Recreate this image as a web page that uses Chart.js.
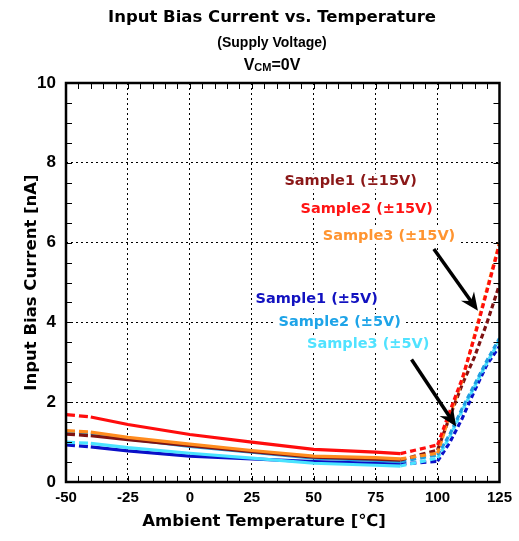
<!DOCTYPE html>
<html><head><meta charset="utf-8">
<script src="https://cdn.jsdelivr.net/npm/chart.js@4"></script>
<style>html,body{margin:0;padding:0;background:#fff;}#wrap{width:519px;height:541px;position:relative;}</style>
</head><body><div id="wrap"><canvas id="c"></canvas></div>
<script>
// ---- data ----
const temps = [-50, -40, -25, 0, 25, 50, 75, 85, 100, 105, 110, 115, 120, 125];
const sample1_15V = [1.20, 1.16, 1.06, 0.91, 0.76, 0.62, 0.57, 0.55, 0.80, 1.65, 2.45, 3.15, 4.00, 4.95];
const sample2_15V = [1.69, 1.63, 1.44, 1.19, 1.00, 0.82, 0.75, 0.71, 0.93, 1.78, 2.60, 3.65, 4.80, 5.95];
const sample3_15V = [1.29, 1.25, 1.12, 0.95, 0.79, 0.65, 0.61, 0.58, 0.72, 1.70, 2.55, 3.70, 4.85, 6.00];
const sample1_5V  = [0.93, 0.88, 0.78, 0.65, 0.58, 0.51, 0.47, 0.45, 0.52, 1.00, 1.60, 2.30, 2.95, 3.40];
const sample2_5V  = [1.26, 1.21, 1.08, 0.89, 0.75, 0.60, 0.54, 0.51, 0.68, 1.20, 1.85, 2.45, 3.05, 3.60];
const sample3_5V  = [1.00, 0.97, 0.86, 0.72, 0.60, 0.47, 0.42, 0.40, 0.60, 1.15, 1.80, 2.40, 3.00, 3.55];
const seriesNames = ['Sample1 (±15V)', 'Sample2 (±15V)', 'Sample3 (±15V)', 'Sample1 (±5V)', 'Sample2 (±5V)', 'Sample3 (±5V)'];
const xTicks = [-50, -25, 0, 25, 50, 75, 100, 125];
const yTicks = [0, 2, 4, 6, 8, 10];
const titleText = 'Input Bias Current vs. Temperature';
const subtitleText = '(Supply Voltage)';
const xTitle = 'Ambient Temperature [℃]';
const yTitle = 'Input Bias Current [nA]';

// ---- styles / annotation placement (data coordinates) ----
const lineColors = ['#7e1212', '#ff0d0d', '#ff8c1f', '#0a10c8', '#1e9fe2', '#4ae3ff'];
const textColors = ['#8b1818', '#ff1414', '#ff9430', '#1212c0', '#1ea4e8', '#50e2ff'];
const labelPos = [[64.9, 7.53], [71.4, 6.83], [80.4, 6.17], [51.2, 4.57], [60.5, 4.01], [72.0, 3.45]];
const arrows = [[[98.5, 5.84], [116.3, 4.29]], [[89.5, 3.07], [107.5, 1.39]]];

const seriesData = [sample1_15V, sample2_15V, sample3_15V, sample1_5V, sample2_5V, sample3_5V];
const drawOrder = [1, 2, 0, 4, 5, 3]; // first = top
const datasets = drawOrder.map(i => ({
  label: seriesNames[i],
  data: temps.map((t, k) => ({x: t, y: seriesData[i][k]})),
  borderColor: lineColors[i],
  borderWidth: 3.2,
  pointRadius: 0,
  tension: 0,
  fill: false,
  segment: {
    borderDash: c => {
      const x0 = c.p0.parsed.x;
      if (x0 < -40) return [9, 4];
      if (x0 >= 100) return [5, 3];
      if (x0 >= 85) return [6, 4];
      return undefined;
    }
  }
}));

const FAM = '"Liberation Sans", Arial, sans-serif';
const WIDE = '"DejaVu Sans", sans-serif';

const decor = {
  id: 'decor',
  afterDraw(chart) {
    const {ctx, chartArea: a, scales: {x, y}} = chart;
    ctx.save();
    // minor ticks
    ctx.strokeStyle = '#000'; ctx.lineWidth = 1;
    ctx.beginPath();
    for (let v = -50; v <= 125; v += 5) {
      const px = Math.round(x.getPixelForValue(v)) + 0.5;
      ctx.moveTo(px, a.bottom); ctx.lineTo(px, a.bottom - 6);
      ctx.moveTo(px, a.top); ctx.lineTo(px, a.top + 6);
    }
    for (let v = 0; v <= 10; v += 0.5) {
      const py = Math.round(y.getPixelForValue(v)) + 0.5;
      ctx.moveTo(a.left, py); ctx.lineTo(a.left + 6, py);
      ctx.moveTo(a.right, py); ctx.lineTo(a.right - 6, py);
    }
    ctx.stroke();
    // frame
    ctx.lineWidth = 2.5;
    ctx.strokeRect(a.left, a.top, a.right - a.left, a.bottom - a.top);
    // labels with white backing
    ctx.font = 'bold 14.5px ' + WIDE;
    ctx.textAlign = 'center'; ctx.textBaseline = 'middle';
    seriesNames.forEach((n, i) => {
      const cx = x.getPixelForValue(labelPos[i][0]), cy = y.getPixelForValue(labelPos[i][1]);
      const w = ctx.measureText(n).width;
      ctx.fillStyle = '#fff';
      ctx.fillRect(cx - w / 2 - 3, cy - 8, w + 6, 16);
      ctx.fillStyle = textColors[i];
      ctx.fillText(n, cx, cy);
    });
    // arrows
    ctx.strokeStyle = '#000'; ctx.fillStyle = '#000'; ctx.lineWidth = 3.5;
    arrows.forEach(([p, q]) => {
      const x1 = x.getPixelForValue(p[0]), y1 = y.getPixelForValue(p[1]);
      const x2 = x.getPixelForValue(q[0]), y2 = y.getPixelForValue(q[1]);
      const ang = Math.atan2(y2 - y1, x2 - x1);
      const L = 18, W = 8;
      const bx = x2 - L * Math.cos(ang), by = y2 - L * Math.sin(ang);
      ctx.beginPath(); ctx.moveTo(x1, y1); ctx.lineTo(x2 - 10 * Math.cos(ang), y2 - 10 * Math.sin(ang)); ctx.stroke();
      const nx = -Math.sin(ang), ny = Math.cos(ang);
      ctx.beginPath();
      ctx.moveTo(x2, y2);
      ctx.lineTo(bx + nx * W, by + ny * W);
      ctx.lineTo(x2 - 12 * Math.cos(ang), y2 - 12 * Math.sin(ang));
      ctx.lineTo(bx - nx * W, by - ny * W);
      ctx.closePath(); ctx.fill();
    });
    // titles
    ctx.fillStyle = '#000';
    ctx.font = 'bold 16.5px ' + WIDE;
    ctx.fillText(titleText, 272, 18);
    ctx.font = 'bold 14px ' + FAM;
    ctx.fillText(subtitleText, 272, 43);
    // V_CM = 0V
    const big = 'bold 16px ' + FAM, small = 'bold 11px ' + FAM;
    ctx.font = big; const w1 = ctx.measureText('V').width, w3 = ctx.measureText('=0V').width;
    ctx.font = small; const w2 = ctx.measureText('CM').width;
    let sx = 272 - (w1 + w2 + w3) / 2;
    ctx.textAlign = 'left';
    ctx.font = big; ctx.fillText('V', sx, 66); sx += w1;
    ctx.font = small; ctx.fillText('CM', sx, 68); sx += w2;
    ctx.font = big; ctx.fillText('=0V', sx, 66);
    // x axis title
    ctx.textAlign = 'center';
    ctx.font = 'bold 16.5px ' + WIDE;
    ctx.fillText(xTitle, 264, 522);
    ctx.restore();
  }
};

new Chart(document.getElementById('c'), {
  type: 'line',
  data: {datasets},
  plugins: [decor],
  options: {
    responsive: true,
    maintainAspectRatio: false,
    animation: false,
    layout: {padding: {top: 83, right: 19, left: 0, bottom: 0}},
    plugins: {legend: {display: false}, tooltip: {enabled: false}, title: {display: false}},
    scales: {
      x: {
        type: 'linear', min: -50, max: 125,
        afterBuildTicks: s => { s.ticks = xTicks.map(v => ({value: v})); },
        afterFit: s => { s.height = 59; },
        ticks: {color: '#000', font: {family: FAM, weight: 'bold', size: 15}, padding: 7, maxRotation: 0, autoSkip: false},
        grid: {color: c => (c.tick && c.tick.value > -50 && c.tick.value < 125) ? '#000' : 'rgba(0,0,0,0)', lineWidth: 1, drawTicks: false},
        border: {display: false, dash: [2, 3]},
        title: {display: false, text: xTitle}
      },
      y: {
        type: 'linear', min: 0, max: 10,
        afterBuildTicks: s => { s.ticks = yTicks.map(v => ({value: v})); },
        afterFit: s => { s.width = 66; },
        ticks: {color: '#000', font: {family: FAM, weight: 'bold', size: 17}, padding: 10, autoSkip: false},
        grid: {color: c => (c.tick && c.tick.value > 0 && c.tick.value < 10) ? '#000' : 'rgba(0,0,0,0)', lineWidth: 1, drawTicks: false},
        border: {display: false, dash: [2, 3]},
        title: {display: true, text: yTitle, color: '#000', font: {family: WIDE, weight: 'bold', size: 16.5, lineHeight: 1}, padding: {top: 23, bottom: 0}}
      }
    }
  }
});
</script>
</body></html>
